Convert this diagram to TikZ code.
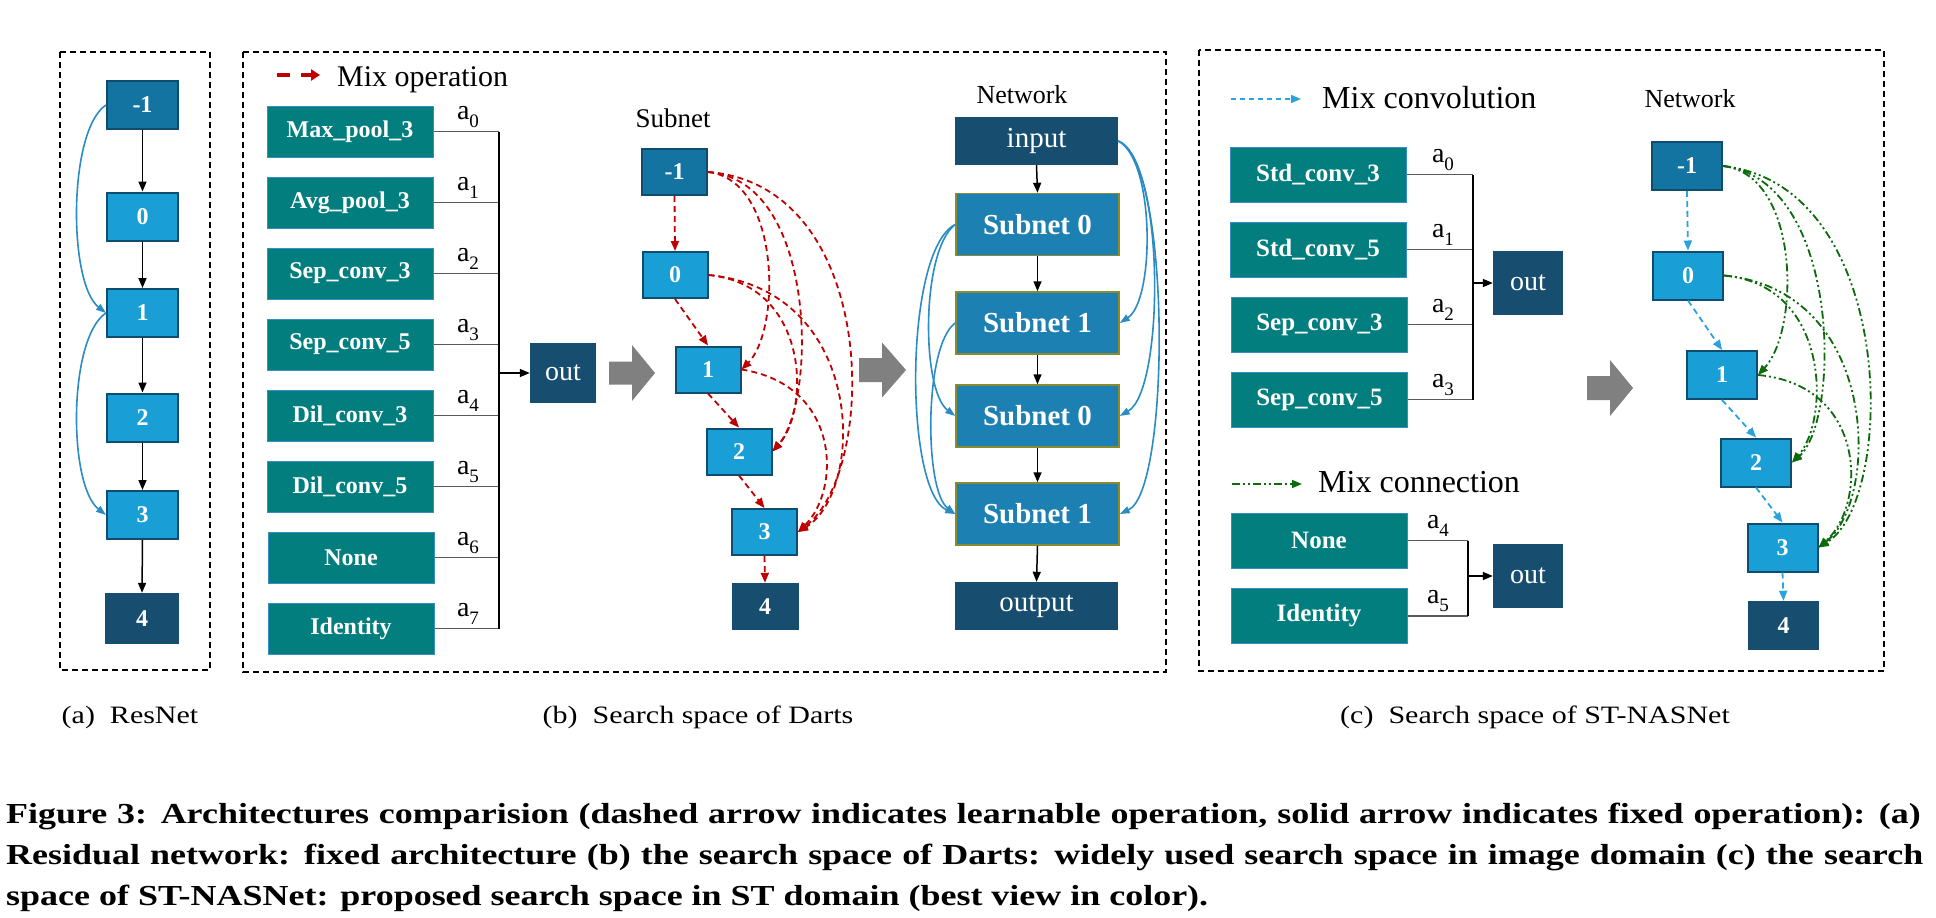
\documentclass[tikz,border=0pt]{standalone}
\usepackage{fontspec}
\setmainfont{Liberation Serif}
\usetikzlibrary{arrows.meta,calc}
\newcommand\myfs[1]{\fontsize{#1}{#1}\selectfont}
\newcommand\asub[1]{a\raisebox{-0.28em}{\myfs{19}#1}}
\definecolor{navy}{HTML}{174E70}
\definecolor{midblue}{HTML}{1373A1}
\definecolor{nodeborder}{HTML}{0F4C6D}
\definecolor{lightblue}{HTML}{1A9ED6}
\definecolor{subblue}{HTML}{1D80B3}
\definecolor{olive}{HTML}{8A8A2E}
\definecolor{teal2}{HTML}{027E7F}
\definecolor{tealedge}{HTML}{3A8CC4}
\definecolor{darkred}{HTML}{C00000}
\definecolor{curveblue}{HTML}{2B8CC4}
\definecolor{dgreen}{HTML}{0B6B0B}
\definecolor{dashblue}{HTML}{2AA3DC}
\definecolor{arrowgray}{HTML}{808080}
\definecolor{wiregray}{HTML}{5A5A5A}
\tikzset{
 cellbase/.style={rectangle, inner sep=0pt, text=white, font=\bfseries\myfs{24}},
 cin/.style={cellbase, fill=midblue, draw=nodeborder, line width=2pt},
 cmid/.style={cellbase, fill=lightblue, draw=nodeborder, line width=2pt},
 cout/.style={cellbase, fill=navy},
 rnsize/.style={minimum width=71pt, minimum height=48pt},
 sbsize/.style={minimum width=65pt, minimum height=46pt},
 stsize/.style={minimum width=70pt, minimum height=48pt},
 opb/.style={rectangle, inner sep=0pt, fill=teal2, draw=tealedge, line width=1pt, text=white, font=\bfseries\myfs{24}, minimum width=166pt, minimum height=51pt},
 opc/.style={opb, font=\bfseries\myfs{25}, minimum width=176pt, minimum height=55pt},
 darkbox/.style={rectangle, inner sep=0pt, fill=navy, text=white, font=\myfs{28}},
 subbox/.style={rectangle, inner sep=0pt, fill=subblue, draw=olive, line width=1.5pt, text=white, font=\bfseries\myfs{29}, minimum width=163pt, minimum height=62pt},
 fixed/.style={draw=black, line width=1.5pt, -{Triangle[length=10pt,width=8pt]}},
 wire/.style={draw=wiregray, line width=1.5pt},
 bus/.style={draw=black, line width=1.5pt},
 redarr/.style={draw=darkred, line width=1.8pt, dash pattern=on 6pt off 4pt, -{Triangle[length=10pt,width=8pt]}},
 skipb/.style={draw=curveblue, line width=1.6pt, -{Triangle[length=10pt,width=7pt]}},
 convarr/.style={draw=dashblue, line width=1.8pt, dash pattern=on 6pt off 4pt, -{Triangle[length=10pt,width=8pt]}},
 connarr/.style={draw=dgreen, line width=1.8pt, dash pattern=on 8pt off 3pt on 2pt off 3pt on 2pt off 3pt, -{Triangle[length=10pt,width=8pt]}},
 panel/.style={draw=black, line width=1.5pt, dash pattern=on 6pt off 4pt},
 alabel/.style={inner sep=0pt, anchor=south, font=\myfs{28}},
 blockarrow/.style={fill=arrowgray},
 figcap/.style={inner sep=0pt, anchor=base west, font=\bfseries\myfs{29}},
 subcap/.style={inner sep=0pt, anchor=base, font=\myfs{25}},
 ttl/.style={inner sep=0pt, anchor=base, font=\myfs{27}},
 legend/.style={inner sep=0pt, anchor=base west, font=\myfs{30}},
}
\begin{document}
\begin{tikzpicture}[x=1pt,y=-1pt]
\useasboundingbox (0,0) rectangle (1936,918);
\fill[white] (0,0) rectangle (1936,918);

% ---------- panels ----------
\draw[panel] (60,52) rectangle (210,670);
\draw[panel] (243,52) rectangle (1166,672);
\draw[panel] (1199,50) rectangle (1884,671);

% ---------- (a) ResNet ----------
\node[cin, rnsize] (rm1) at (142.5,105) {-1};
\node[cmid, rnsize] (r0) at (142.5,216.5) {0};
\node[cmid, rnsize] (r1) at (142.5,313) {1};
\node[cmid, rnsize] (r2) at (142.5,417.5) {2};
\node[cmid, rnsize] (r3) at (142.5,515) {3};
\node[cout, minimum width=74pt, minimum height=51pt] (r4) at (142,618.5) {4};
\draw[fixed] (rm1.south) -- (r0.north);
\draw[fixed] (r0.south) -- (r1.north);
\draw[fixed] (r1.south) -- (r2.north);
\draw[fixed] (r2.south) -- (r3.north);
\draw[fixed] (r3.south) -- (r4.north);
\draw[skipb] (rm1.west) .. controls ($(rm1.west)+(-38,25)$) and ($(r1.west)+(-38,-30)$) .. (r1.west);
\draw[skipb] (r1.west) .. controls ($(r1.west)+(-38,25)$) and ($(r3.west)+(-38,-30)$) .. (r3.west);

% ---------- (b) ops ----------
\coordinate (lg1a) at (277,75);
\coordinate (lg1b) at (320,75);
\draw[draw=darkred, line width=3.5pt, dash pattern=on 13pt off 11pt, -{Triangle[length=9pt,width=11pt]}] (lg1a) -- (lg1b);
\node[legend] (lgt1) at (337,86) {Mix operation};

\node[opb] (op0) at (350,131.5) {Max\_pool\_3};
\node[opb] (op1) at (350,202.5) {Avg\_pool\_3};
\node[opb] (op2) at (350,273.5) {Sep\_conv\_3};
\node[opb] (op3) at (350,344.5) {Sep\_conv\_5};
\node[opb] (op4) at (350,415.5) {Dil\_conv\_3};
\node[opb] (op5) at (350,486.5) {Dil\_conv\_5};
\node[opb] (op6) at (351,557.5) {None};
\node[opb] (op7) at (351,628.5) {Identity};
\coordinate (busb) at (499,0);
\foreach \i in {0,...,7}{
  \draw[wire] (op\i.east) -- (op\i.east -| busb);
  \node[alabel] at ($(op\i.east -| busb)+(-31,-4)$) {\asub{\i}};
}
\draw[bus] (op0.east -| busb) -- (op7.east -| busb);
\node[darkbox, minimum width=66pt, minimum height=60pt] (outb) at (563,373) {out};
\draw[fixed] (outb.west -| busb) -- (outb.west);

\fill[blockarrow] (609,361.5) -- (632,361.5) -- (632,345) -- (655,373) -- (632,401) -- (632,384.5) -- (609,384.5) -- cycle;

% ---------- (b) subnet ----------
\node[ttl] (subttl) at (673,127) {Subnet};
\node[cin, sbsize] (sm1) at (674.5,172) {-1};
\node[cmid, sbsize] (s0) at (675,275) {0};
\node[cmid, sbsize] (s1) at (708,369.5) {1};
\node[cmid, sbsize] (s2) at (739,451.5) {2};
\node[cmid, sbsize] (s3) at (764.5,532) {3};
\node[cout, minimum width=67pt, minimum height=47pt] (s4) at (765,606.5) {4};
\draw[redarr] (sm1.south) -- (s0.north);
\draw[redarr] (s0.south) -- (s1.north);
\draw[redarr] (s1.south) -- (s2.north);
\draw[redarr] (s2.south) -- (s3.north);
\draw[redarr] (s3.south) -- (s4.north);
\draw[redarr] (sm1.east) .. controls (781,180) and (781,330) .. (s1.east);
\draw[redarr] (sm1.east) .. controls (817,180) and (817,400) .. (s2.east);
\draw[redarr] (sm1.east) .. controls (879,185) and (879,470) .. (s3.east);
\draw[redarr] (s0.east) .. controls (810,285) and (810,410) .. (s2.east);
\draw[redarr] (s0.east) .. controls (866,290) and (866,490) .. (s3.east);
\draw[redarr] (s1.east) .. controls (841,385) and (841,490) .. (s3.east);

\fill[blockarrow] (859,358) -- (882,358) -- (882,342.5) -- (906,370) -- (882,397.5) -- (882,382) -- (859,382) -- cycle;

% ---------- (b) network ----------
\node[ttl, font=\myfs{26}] (netttl) at (1022,103) {Network};
\node[darkbox, font=\myfs{29}, minimum width=163pt, minimum height=48pt] (inp) at (1036.5,141) {input};
\node[subbox] (na) at (1037.5,224.5) {Subnet 0};
\node[subbox] (nb) at (1037.5,323) {Subnet 1};
\node[subbox] (nc) at (1037.5,416) {Subnet 0};
\node[subbox] (nd) at (1037.5,514) {Subnet 1};
\node[darkbox, font=\myfs{29}, minimum width=163pt, minimum height=48pt] (outp) at (1036.5,606) {output};
\draw[fixed] (inp.south) -- (na.north);
\draw[fixed] (na.south) -- (nb.north);
\draw[fixed] (nb.south) -- (nc.north);
\draw[fixed] (nc.south) -- (nd.north);
\draw[fixed] (nd.south) -- (outp.north);
\draw[skipb] (inp.east) .. controls (1155,160) and (1155,300) .. (nb.east);
\draw[skipb] (inp.east) .. controls (1165,160) and (1165,390) .. (nc.east);
\draw[skipb] (inp.east) .. controls (1171,160) and (1171,490) .. (nd.east);
\draw[skipb] (na.west) .. controls (921,250) and (921,390) .. (nc.west);
\draw[skipb] (na.west) .. controls (904,250) and (904,490) .. (nd.west);
\draw[skipb] (nb.west) .. controls (924,345) and (924,490) .. (nd.west);

% ---------- (c) ops ----------
\coordinate (lg2a) at (1231,99);
\coordinate (lg2b) at (1301,99);
\draw[convarr, line width=1.5pt, dash pattern=on 5pt off 4pt] (lg2a) -- (lg2b);
\node[legend, font=\myfs{32}] (lgt2) at (1322,108) {Mix convolution};

\node[opc] (cp0) at (1318,174.5) {Std\_conv\_3};
\node[opc] (cp1) at (1318,249.5) {Std\_conv\_5};
\node[opc] (cp2) at (1319.5,324.5) {Sep\_conv\_3};
\node[opc] (cp3) at (1319.5,399.5) {Sep\_conv\_5};
\coordinate (busc) at (1473,0);
\foreach \i in {0,...,3}{
  \draw[wire] (cp\i.east) -- (cp\i.east -| busc);
  \node[alabel] at ($(cp\i.east -| busc)+(-30,-4)$) {\asub{\i}};
}
\draw[bus] (cp0.east -| busc) -- (cp3.east -| busc);
\node[darkbox, minimum width=70pt, minimum height=64pt] (outc1) at (1528,283) {out};
\draw[fixed] (outc1.west -| busc) -- (outc1.west);

\coordinate (lg3a) at (1232,484);
\coordinate (lg3b) at (1302,484);
\draw[connarr, line width=1.5pt] (lg3a) -- (lg3b);
\node[legend, font=\myfs{32}] (lgt3) at (1318,492) {Mix connection};

\node[opc] (cp4) at (1319,540.5) {None};
\node[opc] (cp5) at (1319,616) {Identity};
\coordinate (busd) at (1468,0);
\foreach \i in {4,5}{
  \draw[wire] (cp\i.east) -- (cp\i.east -| busd);
  \node[alabel] at ($(cp\i.east -| busd)+(-30,-4)$) {\asub{\i}};
}
\draw[bus] (cp4.east -| busd) -- (cp5.east -| busd);
\node[darkbox, minimum width=70pt, minimum height=64pt] (outc2) at (1528,576) {out};
\draw[fixed] (outc2.west -| busd) -- (outc2.west);

\fill[blockarrow] (1587,376) -- (1610,376) -- (1610,360) -- (1633,388) -- (1610,416) -- (1610,400) -- (1587,400) -- cycle;

% ---------- (c) network ----------
\node[ttl, font=\myfs{26}] (netttl2) at (1690,107) {Network};
\node[cin, stsize] (cm1) at (1687,166) {-1};
\node[cmid, stsize] (c0) at (1688,275.5) {0};
\node[cmid, stsize] (c1) at (1722,375) {1};
\node[cmid, stsize] (c2) at (1756,462.5) {2};
\node[cmid, stsize] (c3) at (1782.5,547.5) {3};
\node[cout, minimum width=71pt, minimum height=49pt] (c4) at (1783.5,625.5) {4};
\draw[convarr] (cm1.south) -- (c0.north);
\draw[convarr] (c0.south) -- (c1.north);
\draw[convarr] (c1.south) -- (c2.north);
\draw[convarr] (c2.south) -- (c3.north);
\draw[convarr] (c3.south) -- (c4.north);
\draw[connarr] (cm1.east) .. controls (1800,175) and (1800,330) .. (c1.east);
\draw[connarr] (cm1.east) .. controls (1841,180) and (1841,420) .. (c2.east);
\draw[connarr] (cm1.east) .. controls (1897,185) and (1897,500) .. (c3.east);
\draw[connarr] (c0.east) .. controls (1830,285) and (1830,420) .. (c2.east);
\draw[connarr] (c0.east) .. controls (1880,290) and (1880,500) .. (c3.east);
\draw[connarr] (c1.east) .. controls (1867,385) and (1867,505) .. (c3.east);

% ---------- captions ----------
\node[subcap] (capa) at (130,723) {\scalebox{1.2}[1]{(a)\ \ ResNet}};
\node[subcap] (capb) at (698,723) {\scalebox{1.2}[1]{(b)\ \ Search space of Darts}};
\node[subcap] (capc) at (1535,723) {\scalebox{1.2}[1]{(c)\ \ Search space of ST-NASNet}};

\node[figcap] (fc1) at (6,823) {\scalebox{1.24}[1]{\makebox[1544pt][s]{Figure 3: Architectures comparision (dashed arrow indicates learnable operation, solid arrow indicates fixed operation): (a)}}};
\node[figcap] (fc2) at (6,864) {\scalebox{1.24}[1]{\makebox[1546pt][s]{Residual network: fixed architecture (b) the search space of Darts: widely used search space in image domain (c) the search}}};
\node[figcap] (fc3) at (6,905) {\scalebox{1.24}[1]{space of ST-NASNet: proposed search space in ST domain (best view in color).}};
\end{tikzpicture}
\end{document}
